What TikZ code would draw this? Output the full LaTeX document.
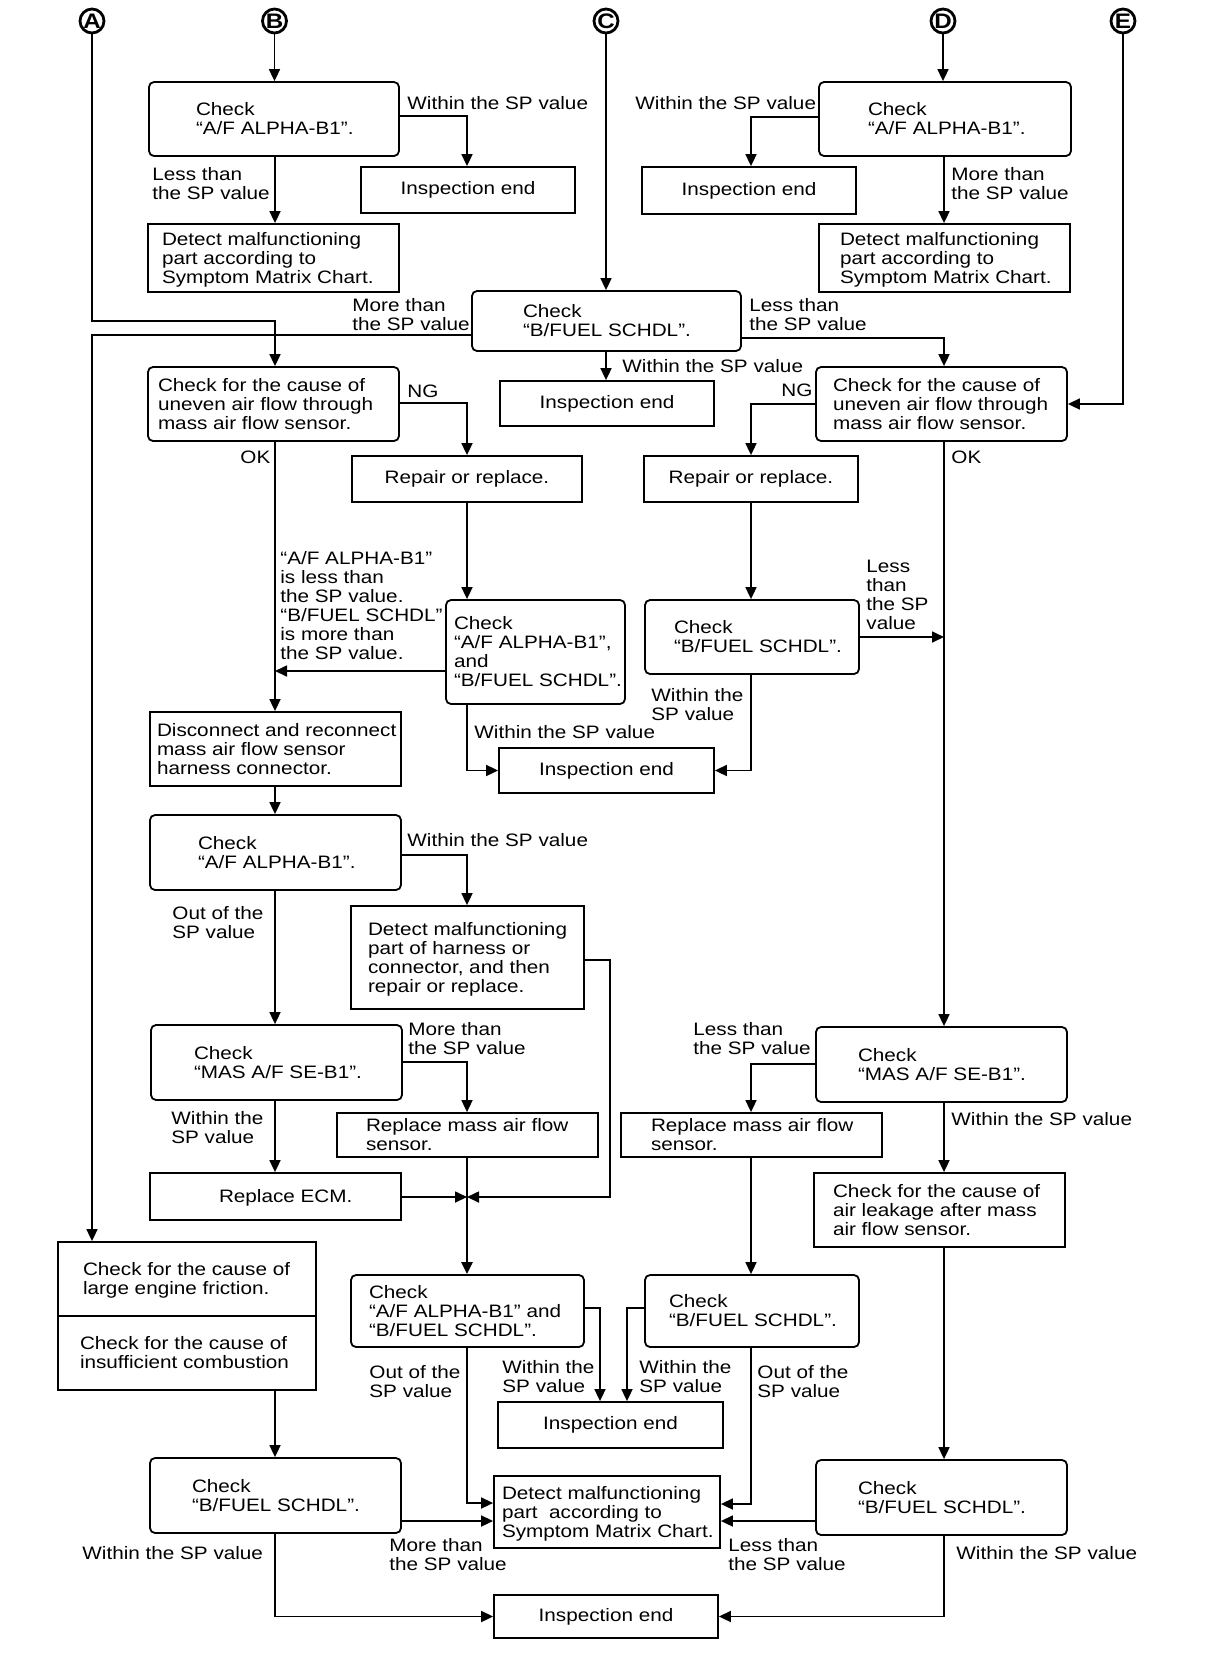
\documentclass[tikz,border=0pt]{standalone}
\usepackage{fontspec}
\setmainfont{Liberation Sans}[FakeStretch=1.15]
\usetikzlibrary{arrows.meta}
\newlength\mywd
\newcommand\mybox[7]{\node[#2, minimum width={(#4-#3)*0.5pt}, minimum height={(#6-#5)*0.5pt}] (#1) at ({(#3+#4)/2},{(#5+#6)/2}) {#7};}
\newcommand\pbox[8]{\pgfmathsetlength{\mywd}{(#4-#3-2*#7)*0.5pt}%
  \node[#2, inner xsep={#7*0.5pt}, minimum width={(#4-#3)*0.5pt}, minimum height={(#6-#5)*0.5pt}] (#1) at ({(#3+#4)/2},{(#5+#6)/2}) {\makebox[\mywd][l]{\begin{tabular}{@{}l@{}}\rule{0pt}{9.2pt}#8\end{tabular}}};}
\newcommand\mylbl[4]{\node[lbl] (#1) at (#2,#3) {#4};}
\begin{document}
\begin{tikzpicture}[x=0.5pt,y=-0.5pt,
  font=\fontsize{9}{9.5}\selectfont,
  box/.style={draw, line width=0.9pt, inner sep=0pt, align=left},
  rbox/.style={box, rounded corners=2.5pt},
  lbl/.style={inner sep=0pt, align=left, anchor=west},
  conn/.style={line width=0.85pt},
  arr/.style={conn, -{Triangle[length=6pt,width=5.5pt]}},
  circ/.style={draw, circle, line width=1.4pt, inner sep=0pt, minimum size=12pt, font=\fontsize{10.5}{10.5}\selectfont\bfseries}]
\fill[white] (0,0) rectangle (1216,1660);
\useasboundingbox (0,0) rectangle (1216,1660);
\def\xL{275}\def\xM{467}\def\xN{751}\def\xR{944}
% circles
\node[circ] (cA) at (92,21) {A};
\node[circ] (cB) at (274.5,21) {B};
\node[circ] (cC) at (606,21) {C};
\node[circ] (cD) at (943,21) {D};
\node[circ] (cE) at (1123,21) {E};
% boxes
\pbox{chkB}{rbox}{149}{399}{82}{156}{47}{Check\\“A/F ALPHA-B1”.}
\mybox{ieA}{box}{361}{575}{167}{213}{Inspection end}
\pbox{detA}{box}{148}{399}{224}{292}{14}{Detect malfunctioning\\part according to\\Symptom Matrix Chart.}
\pbox{chkD}{rbox}{819}{1071}{82}{156}{49}{Check\\“A/F ALPHA-B1”.}
\mybox{ieB}{box}{642}{856}{167}{214}{Inspection end}
\pbox{detB}{box}{819}{1070}{224}{292}{21}{Detect malfunctioning\\part according to\\Symptom Matrix Chart.}
\pbox{chkC}{rbox}{472}{741}{291}{351}{51}{Check\\“B/FUEL SCHDL”.}
\mybox{ieC}{box}{500}{714}{381}{426}{Inspection end}
\pbox{unevL}{rbox}{148}{399}{367}{441}{10}{Check for the cause of\\uneven air flow through\\mass air flow sensor.}
\pbox{unevR}{rbox}{816}{1067}{367}{441}{17}{Check for the cause of\\uneven air flow through\\mass air flow sensor.}
\mybox{repL}{box}{352}{582}{456}{502}{Repair or replace.}
\mybox{repR}{box}{644}{858}{456}{502}{Repair or replace.}
\pbox{chkAB}{rbox}{446}{625}{600}{704}{8}{Check\\“A/F ALPHA-B1”,\\and\\“B/FUEL SCHDL”.}
\pbox{chkBm}{rbox}{645}{859}{600}{674}{29}{Check\\“B/FUEL SCHDL”.}
\pbox{disc}{box}{150}{401}{712}{786}{7}{Disconnect and reconnect\\mass air flow sensor\\harness connector.}
\mybox{ieD}{box}{499}{714}{748}{793}{Inspection end}
\pbox{chkA2}{rbox}{150}{401}{815}{890}{48}{Check\\“A/F ALPHA-B1”.}
\pbox{detH}{box}{351}{584}{906}{1009}{17}{Detect malfunctioning\\part of harness or\\connector, and then\\repair or replace.}
\pbox{masL}{rbox}{151}{402}{1025}{1100}{43}{Check\\“MAS A/F SE-B1”.}
\pbox{masR}{rbox}{816}{1067}{1027}{1102}{42}{Check\\“MAS A/F SE-B1”.}
\pbox{rmafL}{box}{337}{598}{1113}{1157}{29}{Replace mass air flow\\sensor.}
\pbox{rmafR}{box}{621}{882}{1113}{1157}{30}{Replace mass air flow\\sensor.}
\pbox{ecm}{box}{150}{401}{1173}{1220}{69}{Replace ECM.}
\pbox{leak}{box}{814}{1065}{1173}{1247}{19}{Check for the cause of\\air leakage after mass\\air flow sensor.}
\pbox{fricA}{box}{58}{316}{1242}{1316}{25}{Check for the cause of\\large engine friction.}
\pbox{fricB}{box}{58}{316}{1316}{1390}{22}{Check for the cause of\\insufficient combustion}
\pbox{chkABb}{rbox}{351}{584}{1275}{1347}{18}{Check\\“A/F ALPHA-B1” and\\“B/FUEL SCHDL”.}
\pbox{chkBb}{rbox}{645}{859}{1275}{1347}{24}{Check\\“B/FUEL SCHDL”.}
\mybox{ieE}{box}{498}{723}{1402}{1448}{Inspection end}
\pbox{chkBL}{rbox}{150}{401}{1458}{1533}{42}{Check\\“B/FUEL SCHDL”.}
\pbox{detF}{box}{494}{720}{1476}{1548}{8}{Detect malfunctioning\\part\ \ according to\\Symptom Matrix Chart.}
\pbox{chkBR}{rbox}{816}{1067}{1460}{1535}{42}{Check\\“B/FUEL SCHDL”.}
\mybox{ieF}{box}{494}{718}{1595}{1638}{Inspection end}
% labels
\mylbl{l1}{407}{103}{Within the SP value}
\mylbl{l2}{152}{184}{Less than\\the SP value}
\mylbl{l3}{635}{103}{Within the SP value}
\mylbl{l4}{951}{184}{More than\\the SP value}
\mylbl{l5}{352}{315}{More than\\the SP value}
\mylbl{l6}{749}{315}{Less than\\the SP value}
\mylbl{l7}{622}{366}{Within the SP value}
\mylbl{l8}{407}{391}{NG}
\mylbl{l9}{781}{390}{NG}
\mylbl{l10}{240}{457}{OK}
\mylbl{l11}{951}{457}{OK}
\mylbl{l12}{280}{605.5}{“A/F ALPHA-B1”\\is less than\\the SP value.\\“B/FUEL SCHDL”\\is more than\\the SP value.}
\mylbl{l13}{474}{732}{Within the SP value}
\mylbl{l14}{866}{594.5}{Less\\than\\the SP\\value}
\mylbl{l15}{651}{704.5}{Within the\\SP value}
\mylbl{l16}{407}{840}{Within the SP value}
\mylbl{l17}{172}{922.5}{Out of the\\SP value}
\mylbl{l18}{408}{1038.5}{More than\\the SP value}
\mylbl{l19}{171}{1128}{Within the\\SP value}
\mylbl{l20}{693}{1038.5}{Less than\\the SP value}
\mylbl{l21}{951}{1119}{Within the SP value}
\mylbl{l22}{502}{1376.5}{Within the\\SP value}
\mylbl{l23}{369}{1381.5}{Out of the\\SP value}
\mylbl{l24}{639}{1376.5}{Within the\\SP value}
\mylbl{l25}{757}{1381.5}{Out of the\\SP value}
\mylbl{l26}{389}{1554.5}{More than\\the SP value}
\mylbl{l27}{82}{1553}{Within the SP value}
\mylbl{l28}{728}{1554.5}{Less than\\the SP value}
\mylbl{l29}{956}{1553}{Within the SP value}
% junction coordinates
\coordinate (jL) at (\xL,671);
\coordinate (jR) at (\xR,637);
\coordinate (jM) at (\xM,1197);
\coordinate (kH) at (610,1197);
% connectors
\draw[arr] (cB) -- (cB |- chkB.north);
\draw[arr] (chkB.east |- 0,116) -| (ieA.north -| \xM,0);
\draw[arr] (chkB.south -| \xL,0) -- (detA.north -| \xL,0);
\draw[arr] (cD) -- (cD |- chkD.north);
\draw[arr] (chkD.west |- 0,117) -| (ieB.north -| \xN,0);
\draw[arr] (chkD.south -| \xR,0) -- (detB.north -| \xR,0);
\draw[arr] (cC) -- (cC |- chkC.north);
\draw[arr] (chkC.south -| cC) -- (ieC.north -| cC);
\draw[arr] (chkC.west |- 0,335) -| (cA |- fricA.north);
\draw[arr] (cA) |- (\xL,321) -- (unevL.north -| \xL,0);
\draw[arr] (chkC.east |- 0,338) -| (unevR.north -| \xR,0);
\draw[arr] (cE) |- (unevR.east |- 0,404);
\draw[arr] (unevL.east |- 0,403) -| (repL.north -| \xM,0);
\draw[arr] (unevR.west |- 0,404) -| (repR.north -| \xN,0);
\draw[arr] (unevL.south -| \xL,0) -- (disc.north -| \xL,0);
\draw[arr] (unevR.south -| \xR,0) -- (masR.north -| \xR,0);
\draw[arr] (repL.south -| \xM,0) -- (chkAB.north -| \xM,0);
\draw[arr] (repR.south -| \xN,0) -- (chkBm.north -| \xN,0);
\draw[arr] (chkAB.west |- jL) -- (jL);
\draw[arr] (chkAB.south -| \xM,0) |- (ieD.west);
\draw[arr] (chkBm.east |- jR) -- (jR);
\draw[arr] (chkBm.south -| \xN,0) |- (ieD.east);
\draw[arr] (disc.south -| \xL,0) -- (chkA2.north -| \xL,0);
\draw[arr] (chkA2.east |- 0,855) -| (detH.north -| \xM,0);
\draw[arr] (chkA2.south -| \xL,0) -- (masL.north -| \xL,0);
\draw[arr] (detH.east |- 0,960) -| (kH) -- (jM);
\draw[arr] (masL.east |- 0,1062) -| (rmafL.north -| \xM,0);
\draw[arr] (masL.south -| \xL,0) -- (ecm.north -| \xL,0);
\draw[arr] (ecm.east |- jM) -- (jM);
\draw[arr, line width=1.1pt] (rmafL.south -| \xM,0) -- (chkABb.north -| \xM,0);
\draw[arr] (masR.west |- 0,1064) -| (rmafR.north -| \xN,0);
\draw[arr] (masR.south -| \xR,0) -- (leak.north -| \xR,0);
\draw[arr] (rmafR.south -| \xN,0) -- (chkBb.north -| \xN,0);
\draw[arr] (leak.south -| \xR,0) -- (chkBR.north -| \xR,0);
\draw[arr] (fricB.south -| \xL,0) -- (chkBL.north -| \xL,0);
\draw[arr] (chkABb.east |- 0,1308) -| (ieE.north -| 600,0);
\draw[arr] (chkABb.south -| \xM,0) |- (detF.west |- 0,1503);
\draw[arr] (chkBb.west |- 0,1308) -| (ieE.north -| 627,0);
\draw[arr] (chkBb.south -| \xN,0) |- (detF.east |- 0,1504);
\draw[arr] (chkBL.east |- 0,1521) -- (detF.west |- 0,1521);
\draw[arr] (chkBL.south -| \xL,0) |- (ieF.west);
\draw[arr] (chkBR.west |- 0,1521) -- (detF.east |- 0,1521);
\draw[arr] (chkBR.south -| \xR,0) |- (ieF.east);
\end{tikzpicture}
\end{document}
